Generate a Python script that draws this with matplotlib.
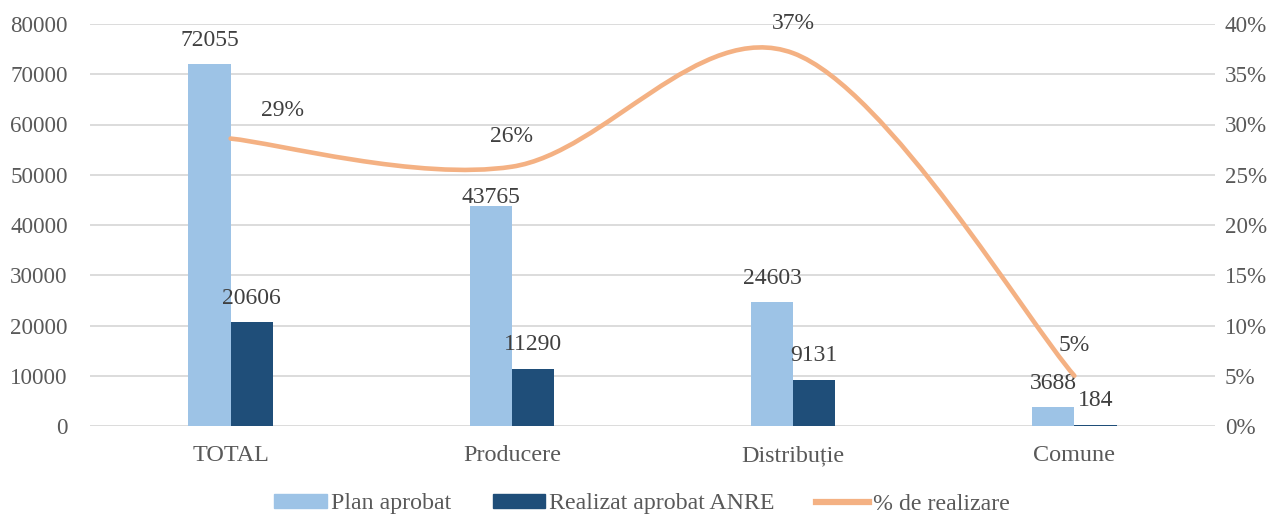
import matplotlib
matplotlib.use("Agg")
import matplotlib.pyplot as plt
import numpy as np
from matplotlib.patches import Patch
from matplotlib.lines import Line2D
from matplotlib.path import Path
from matplotlib.patches import PathPatch

categories = ["TOTAL", "Producere", "Distribuție", "Comune"]
plan = [72055, 43765, 24603, 3688]
realizat = [20606, 11290, 9131, 184]
pct = [28.6, 25.8, 37.1, 5.0]
pct_labels = ["29%", "26%", "37%", "5%"]
left_ticks = [0, 10000, 20000, 30000, 40000, 50000, 60000, 70000, 80000]
right_ticks = [0, 5, 10, 15, 20, 25, 30, 35, 40]
series_names = ["Plan aprobat", "Realizat aprobat ANRE", "% de realizare"]

plt.rcParams['font.family'] = ['Liberation Serif', 'DejaVu Serif']
FS_TICK = 16.6
FS_CAT = 17.4
FS_LBL = 17.0
FS_LEG = 17.2
TXT = '#595959'
LBL = '#404040'
C_PLAN = '#9dc3e6'
C_REAL = '#1f4e79'
C_LINE = '#f4b183'
GRID = '#d9d9d9'

W, H = 1282, 514
fig = plt.figure(figsize=(W / 100, H / 100), dpi=100)
ax = fig.add_axes([90 / W, 1 - 426 / H, (1215 - 90) / W, (426 - 24) / H])
ax2 = ax.twinx()

x = np.arange(len(categories))
bw = 0.15
ax.bar(x - bw / 2, plan, bw, color=C_PLAN, zorder=2)
ax.bar(x + bw / 2, realizat, bw, color=C_REAL, zorder=2)

ax.set_xlim(-0.5, len(categories) - 0.5)
ax.set_ylim(0, 80000)
ax.set_yticks(left_ticks)
ax.set_yticklabels([str(v) for v in left_ticks])
ax.grid(axis='y', color=GRID, lw=1.3, zorder=0)
ax.set_axisbelow(True)
for s in ax.spines.values():
    s.set_visible(False)
for s in ax2.spines.values():
    s.set_visible(False)
ax.tick_params(axis='both', length=0, labelcolor=TXT)
ax.tick_params(axis='y', pad=16, labelsize=FS_TICK)
ax.tick_params(axis='x', pad=14, labelsize=FS_CAT)
ax.set_xticks(x)
ax.set_xticklabels(categories)

plan_off = [17, 6, 17, 17]
for xi, v, o in zip(x, plan, plan_off):
    ax.annotate(str(v), (xi - bw / 2, v), xytext=(0, o), textcoords='offset points',
                ha='center', va='center', fontsize=FS_LBL, color=LBL, zorder=5)
for xi, v in zip(x, realizat):
    ax.annotate(str(v), (xi + bw / 2, v), xytext=(0, 17.5), textcoords='offset points',
                ha='center', va='center', fontsize=FS_LBL, color=LBL, zorder=5)

ax2.set_ylim(0, 40)
ax2.set_yticks(right_ticks)
ax2.set_yticklabels([f"{v}%" for v in right_ticks])
ax2.tick_params(axis='y', length=0, labelsize=FS_TICK, labelcolor=TXT, pad=7)

# Excel-style smoothed line (cubic Bezier, tension 1/6)
pts = np.column_stack([x.astype(float), np.array(pct, dtype=float)])
n = len(pts)
verts = [tuple(pts[0])]
codes = [Path.MOVETO]
for i in range(n - 1):
    p0 = pts[max(i - 1, 0)]
    p1 = pts[i]
    p2 = pts[i + 1]
    p3 = pts[min(i + 2, n - 1)]
    c1 = p1 + (p2 - p0) / 6
    c2 = p2 - (p3 - p1) / 6
    verts += [tuple(c1), tuple(c2), tuple(p2)]
    codes += [Path.CURVE4] * 3
ax2.add_patch(PathPatch(Path(verts, codes), facecolor='none', edgecolor=C_LINE,
                        lw=3.3, capstyle='round', zorder=4))

offsets = [(37, 20), (0, 21.5), (0, 21.5), (0, 21.5)]
for xi, v, lab, off in zip(x, pct, pct_labels, offsets):
    ax2.annotate(lab, (xi, v), xytext=off, textcoords='offset points',
                 ha='center', va='center', fontsize=FS_LBL, color=LBL, zorder=5)

handles = [Patch(color=C_PLAN), Patch(color=C_REAL), Line2D([], [], color=C_LINE, lw=4.5)]
leg = fig.legend(handles, series_names, loc='center', bbox_to_anchor=(642 / W, (H - 504) / H),
                 ncol=3, frameon=False, fontsize=FS_LEG, handlelength=2.18, handleheight=0.55,
                 handletextpad=0.17, columnspacing=1.76, borderpad=0)
for t in leg.get_texts():
    t.set_color(TXT)

fig.savefig("out.png", dpi=100)
